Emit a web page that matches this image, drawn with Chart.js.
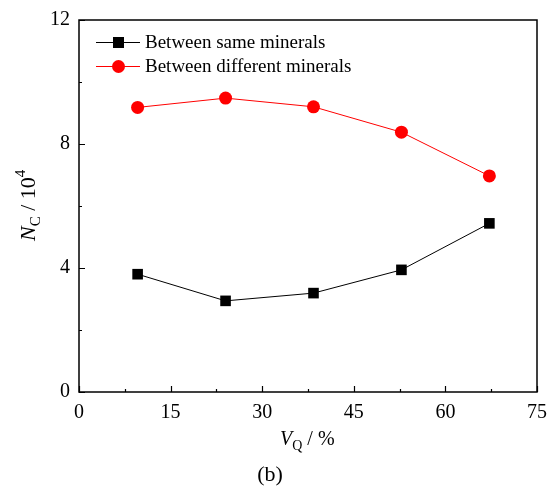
<!DOCTYPE html>
<html>
<head>
<meta charset="utf-8">
<script src="https://cdn.jsdelivr.net/npm/chart.js@4"></script>
<style>
  html, body { margin: 0; padding: 0; background: #fff; }
  #wrap { width: 547px; height: 488px; position: relative; }
</style>
</head>
<body>
<div id="wrap"><canvas id="c"></canvas></div>
<script>
// V_Q (%) for each sample
var vq = [9.6, 24.0, 38.4, 52.8, 67.2];
// contact counts, in units of 10^4
var sameMinerals = [3.80, 2.94, 3.19, 3.94, 5.44];
var diffMinerals = [9.18, 9.48, 9.20, 8.38, 6.97];
var seriesNames = ["Between same minerals", "Between different minerals"];
var xTicks = [0, 15, 30, 45, 60, 75];
var yTicks = [0, 4, 8, 12];

var SERIF = '"Liberation Serif", "Times New Roman", serif';

function pts(xs, ys) {
    return xs.map(function(x, i) { return { x: x, y: ys[i] }; });
}

// inward ticks, frame, legend and the formatted axis titles
var decorations = {
    id: "decorations",
    afterDraw: function(chart) {
        var ctx = chart.ctx, a = chart.chartArea;
        var xs = chart.scales.x, ys = chart.scales.y;
        ctx.save();
        ctx.strokeStyle = "#000";
        ctx.lineWidth = 1.5;
        ctx.strokeRect(a.left, a.top, a.right - a.left, a.bottom - a.top);

        ctx.lineWidth = 1.2;
        ctx.beginPath();
        for (var v = 0; v <= 75; v += 7.5) {
            var px = Math.round(xs.getPixelForValue(v)) + 0.5;
            var len = (v % 15 === 0) ? 6 : 3;
            ctx.moveTo(px, a.bottom);
            ctx.lineTo(px, a.bottom - len);
        }
        for (var w = 0; w <= 12; w += 2) {
            var py = Math.round(ys.getPixelForValue(w)) + 0.5;
            var l2 = (w % 4 === 0) ? 6 : 3;
            ctx.moveTo(a.left, py);
            ctx.lineTo(a.left + l2, py);
        }
        ctx.stroke();

        // legend
        var rows = [
            { y: 42.5, color: "#000", square: true },
            { y: 66.5, color: "#ff0000", square: false }
        ];
        ctx.font = "19px " + SERIF;
        ctx.textBaseline = "middle";
        ctx.textAlign = "left";
        rows.forEach(function(r, i) {
            ctx.strokeStyle = r.color;
            ctx.fillStyle = r.color;
            ctx.lineWidth = 1;
            ctx.beginPath();
            ctx.moveTo(96, r.y);
            ctx.lineTo(140, r.y);
            ctx.stroke();
            if (r.square) {
                ctx.fillRect(113, r.y - 5.5, 11, 11);
            } else {
                ctx.beginPath();
                ctx.arc(118.5, r.y, 6.5, 0, Math.PI * 2);
                ctx.fill();
            }
            ctx.fillStyle = "#000";
            ctx.fillText(seriesNames[i], 145, r.y + 1);
        });

        // x title: V_Q / %
        ctx.textBaseline = "alphabetic";
        var x0 = 280, yb = 445;
        ctx.font = "italic 20px " + SERIF;
        ctx.fillText("V", x0, yb);
        x0 += ctx.measureText("V").width;
        ctx.font = "14px " + SERIF;
        ctx.fillText("Q", x0, yb + 5);
        x0 += ctx.measureText("Q").width;
        ctx.font = "20px " + SERIF;
        ctx.fillText(" / %", x0, yb);

        // y title: N_C / 10^4, rotated
        ctx.save();
        ctx.translate(35, 241);
        ctx.rotate(-Math.PI / 2);
        var t = 0;
        ctx.font = "italic 22px " + SERIF;
        ctx.fillText("N", t, 0);
        t += ctx.measureText("N").width;
        ctx.font = "15px " + SERIF;
        ctx.fillText("C", t, 5);
        t += ctx.measureText("C").width;
        ctx.font = "22px " + SERIF;
        ctx.fillText(" / 10", t, 0);
        t += ctx.measureText(" / 10").width;
        ctx.font = "15px " + SERIF;
        ctx.fillText("4", t, -10);
        ctx.restore();

        // panel label
        ctx.font = "22px " + SERIF;
        ctx.textAlign = "center";
        ctx.fillText("(b)", 270, 481);
        ctx.restore();
    }
};

new Chart(document.getElementById("c"), {
    type: "line",
    data: {
        datasets: [{
            label: seriesNames[0],
            data: pts(vq, sameMinerals),
            borderColor: "#000",
            backgroundColor: "#000",
            borderWidth: 1,
            pointStyle: "rect",
            pointRadius: 7.5,
            pointBorderWidth: 0,
            tension: 0
        }, {
            label: seriesNames[1],
            data: pts(vq, diffMinerals),
            borderColor: "#ff0000",
            backgroundColor: "#ff0000",
            borderWidth: 1,
            pointStyle: "circle",
            pointRadius: 6.5,
            pointBorderWidth: 0,
            tension: 0
        }]
    },
    options: {
        responsive: true,
        maintainAspectRatio: false,
        animation: false,
        layout: { padding: { left: 0, right: 10, top: 20, bottom: 0 } },
        plugins: { legend: { display: false }, tooltip: { enabled: false } },
        scales: {
            x: {
                type: "linear",
                min: 0, max: 75,
                afterBuildTicks: function(s) { s.ticks = xTicks.map(function(v) { return { value: v }; }); },
                afterFit: function(s) { s.height = 96; s.paddingLeft = 0; s.paddingRight = 0; },
                grid: { display: false, drawTicks: false },
                border: { display: false },
                ticks: { color: "#000", padding: 9, font: { family: SERIF, size: 20 } }
            },
            y: {
                min: 0, max: 12,
                afterBuildTicks: function(s) { s.ticks = yTicks.map(function(v) { return { value: v }; }); },
                afterFit: function(s) { s.width = 79; s.paddingTop = 0; s.paddingBottom = 0; },
                grid: { display: false, drawTicks: false },
                border: { display: false },
                ticks: { color: "#000", padding: 9, font: { family: SERIF, size: 20 } }
            }
        }
    },
    plugins: [decorations]
});
</script>
</body>
</html>
